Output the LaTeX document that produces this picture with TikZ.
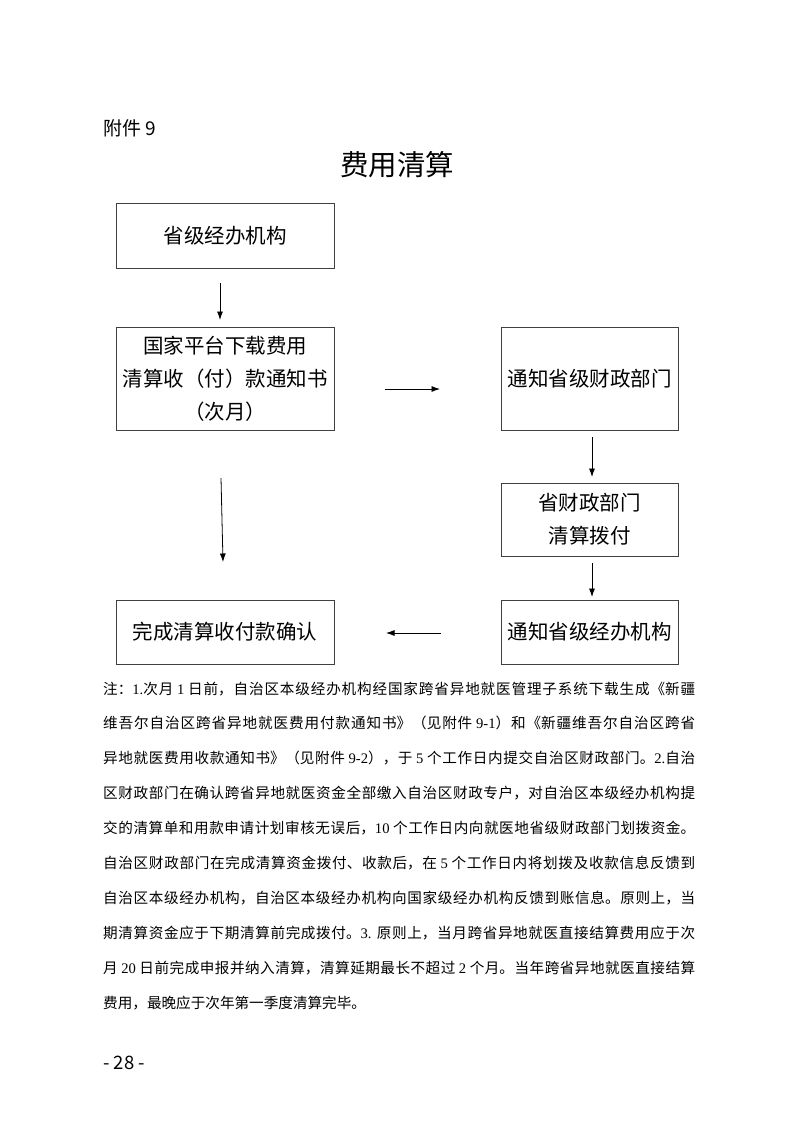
\documentclass[tikz,border=0pt]{standalone}
\usepackage{fontspec}
\setmainfont{Noto Sans CJK SC}
\newfontfamily\tnr{Liberation Serif}
\usetikzlibrary{arrows.meta}
\XeTeXlinebreaklocale "zh"
\XeTeXlinebreakskip=0pt plus 3pt
\begin{document}
\begin{tikzpicture}[x=1pt,y=-1pt,
  box/.style={draw=black!75,line width=0.8pt,inner sep=0pt,align=center,font=\fontsize{20.5}{33}\selectfont},
  arr/.style={-{Latex[length=8.5pt,width=6pt]},line width=0.8pt}]
\path[use as bounding box,fill=white] (0,0) rectangle (793,1122);

\node[anchor=west,inner sep=0pt,font=\fontsize{19}{22}\selectfont] (att) at (103,128) {附件 9};
\node[inner sep=0pt,font=\fontsize{28.5}{32}\selectfont] (title) at (397,165) {费用清算};

\node[box,minimum width=218pt,minimum height=65pt] (b1) at (225,235.5) {省级经办机构};
\node[box,minimum width=218pt,minimum height=103pt] (b2) at (225,378.5) {国家平台下载费用\\清算收（付）款通知书\\（次月）};
\node[box,minimum width=177pt,minimum height=103pt] (b3) at (589.5,378.5) {通知省级财政部门};
\node[box,minimum width=177pt,minimum height=73pt] (b4) at (589.5,519.5) {省财政部门\\清算拨付};
\node[box,minimum width=177pt,minimum height=64pt] (b5) at (589.5,632) {通知省级经办机构};
\node[box,minimum width=218pt,minimum height=64pt] (b6) at (225,632) {完成清算收付款确认};

\coordinate (a1s) at (220,283); \coordinate (a1e) at (220,320);
\coordinate (a2s) at (385,389); \coordinate (a2e) at (440,389);
\coordinate (a3s) at (592,437); \coordinate (a3e) at (592,477);
\coordinate (a4s) at (221,478); \coordinate (a4e) at (223,562);
\coordinate (a5s) at (592,563); \coordinate (a5e) at (592,597);
\coordinate (a6s) at (441,633); \coordinate (a6e) at (386,633);
\draw[arr] (a1s) -- (a1e);
\draw[arr] (a2s) -- (a2e);
\draw[arr] (a3s) -- (a3e);
\draw[arr] (a4s) -- (a4e);
\draw[arr] (a5s) -- (a5e);
\draw[arr] (a6s) -- (a6e);

\node[anchor=base west,text width=592pt,align=justify,inner sep=0pt,font=\fontsize{14.6}{34.9}\selectfont] (note) at (103,694) {\noindent 注：{\tnr 1.}次月 {\tnr 1} 日前，自治区本级经办机构经国家跨省异地就医管理子系统下载生成《新疆\linebreak
维吾尔自治区跨省异地就医费用付款通知书》（见附件 {\tnr 9-1}）和《新疆维吾尔自治区跨省\linebreak
异地就医费用收款通知书》（见附件 {\tnr 9-2}），于 {\tnr 5} 个工作日内提交自治区财政部门。{\tnr 2.}自治\linebreak
区财政部门在确认跨省异地就医资金全部缴入自治区财政专户，对自治区本级经办机构提\linebreak
交的清算单和用款申请计划审核无误后，{\tnr 10} 个工作日内向就医地省级财政部门划拨资金。\linebreak
自治区财政部门在完成清算资金拨付、收款后，在 {\tnr 5} 个工作日内将划拨及收款信息反馈到\linebreak
自治区本级经办机构，自治区本级经办机构向国家级经办机构反馈到账信息。原则上，当\linebreak
期清算资金应于下期清算前完成拨付。{\tnr 3.} 原则上，当月跨省异地就医直接结算费用应于次\linebreak
月 {\tnr 20} 日前完成申报并纳入清算，清算延期最长不超过 {\tnr 2} 个月。当年跨省异地就医直接结算\linebreak
费用，最晚应于次年第一季度清算完毕。};

\node[anchor=west,inner sep=0pt,font=\fontsize{18.5}{22}\selectfont] (page) at (103,1063) {-\ 28\ -};
\end{tikzpicture}
\end{document}
